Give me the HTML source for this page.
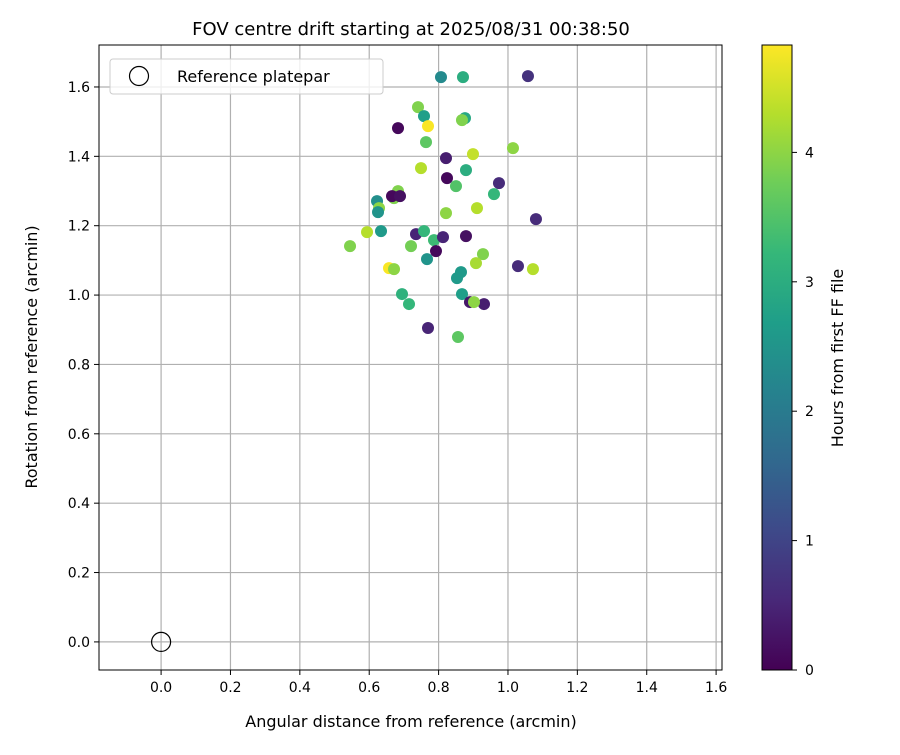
<!DOCTYPE html>
<html><head><meta charset="utf-8"><style>body{margin:0;background:#fff}svg{font-family:"DejaVu Sans","Liberation Sans",sans-serif}</style></head>
<body>
<svg id="c" width="900" height="750"></svg>
<script>
const xPix=[441,463,528,418,424,398,428,426,465,462,513,446,473,421,466,447,456,499,494,398,394,377,392,400,379,378,446,477,536,367,381,350,416,424,434,443,411,436,466,483,476,427,518,533,389,394,461,457,402,409,462,470,484,474,428,458];
const yPix=[77,77,76,107,116,128,126,142,118,120,148,158,154,168,170,178,186,183,194,191,198,201,196,196,208,212,213,208,219,232,231,246,234,231,240,237,246,251,236,254,263,259,266,269,268,269,272,278,294,304,294,302,304,302,328,337];
const hours=[2.3,3.0,0.7,3.9,2.7,0.1,4.8,3.6,2.9,3.9,4.0,0.4,4.4,4.3,3.0,0.1,3.5,0.6,3.2,3.9,3.9,2.4,0.1,0.2,4.0,2.5,4.0,4.3,0.6,4.3,2.6,3.9,0.5,3.2,3.3,0.5,3.8,0.1,0.2,3.9,4.2,2.5,0.6,4.3,4.8,4.0,2.6,2.6,3.1,3.2,2.7,0.3,0.4,4.0,0.5,3.6];
const xs=xPix.map(p=>(p-161)/347), ys=yPix.map(p=>(642-p)/347);
const xTicks=[0,0.2,0.4,0.6,0.8,1.0,1.2,1.4,1.6], yTicks=[0,0.2,0.4,0.6,0.8,1.0,1.2,1.4,1.6], cTicks=[0,1,2,3,4];
const L=99,R=722,T=45,B=670,X0=-0.179,X1=1.617,Y0=-0.081,Y1=1.721,HMAX=4.83;
const sx=v=>L+(v-X0)/(X1-X0)*(R-L), sy=v=>B-(v-Y0)/(Y1-Y0)*(B-T), sc=h=>670-h/HMAX*625;
const vir=[[68,1,84],[72,40,120],[62,73,137],[49,104,142],[38,130,142],[31,158,137],[53,183,121],[109,205,89],[180,222,44],[253,231,37]];
function cm(t){t=Math.max(0,Math.min(1,t))*(vir.length-1);const i=Math.min(Math.floor(t),vir.length-2),f=t-i;const c=vir[i].map((v,k)=>Math.round(v+(vir[i+1][k]-v)*f));return `rgb(${c})`;}
const svg=document.getElementById('c');let h='';
h+=`<text x="411" y="35" font-size="18" text-anchor="middle">FOV centre drift starting at 2025/08/31 00:38:50</text>`;
xTicks.forEach(t=>{const x=sx(t);h+=`<line x1="${x}" y1="${T}" x2="${x}" y2="${B}" stroke="#b0b0b0" stroke-width="1.2"/><line x1="${x}" y1="${B}" x2="${x}" y2="${B+5}" stroke="#000"/><text x="${x}" y="${B+22}" font-size="14" text-anchor="middle">${t.toFixed(1)}</text>`;});
yTicks.forEach(t=>{const y=sy(t);h+=`<line x1="${L}" y1="${y}" x2="${R}" y2="${y}" stroke="#b0b0b0" stroke-width="1.2"/><line x1="${L-5}" y1="${y}" x2="${L}" y2="${y}" stroke="#000"/><text x="${L-9}" y="${y+5}" font-size="14" text-anchor="end">${t.toFixed(1)}</text>`;});
xs.forEach((v,i)=>{h+=`<circle cx="${sx(v)}" cy="${sy(ys[i])}" r="6" fill="${cm(hours[i]/HMAX)}"/>`;});
h+=`<circle cx="${sx(0)}" cy="${sy(0)}" r="9.5" fill="none" stroke="#000" stroke-width="1.2"/>`;
h+=`<rect x="${L}" y="${T}" width="${R-L}" height="${B-T}" fill="none" stroke="#000" stroke-width="1"/>`;
h+=`<g><rect x="110" y="59" width="273" height="35" rx="3" fill="#fff" fill-opacity="0.8" stroke="#ccc"/><circle cx="139" cy="76" r="9.5" fill="none" stroke="#000" stroke-width="1.2"/><text x="177" y="82" font-size="16">Reference platepar</text></g>`;
h+=`<text x="411" y="727" font-size="16" text-anchor="middle">Angular distance from reference (arcmin)</text>`;
h+=`<text transform="translate(37,357) rotate(-90)" font-size="16" text-anchor="middle">Rotation from reference (arcmin)</text>`;
let defs='<defs><linearGradient id="g" x1="0" y1="1" x2="0" y2="0">';vir.forEach((c,i)=>defs+=`<stop offset="${i/(vir.length-1)}" stop-color="rgb(${c})"/>`);defs+='</linearGradient></defs>';
h=defs+h+`<rect x="762" y="45" width="30" height="625" fill="url(#g)" stroke="#000" stroke-width="1"/>`;
cTicks.forEach(t=>{const y=sc(t);h+=`<line x1="792" y1="${y}" x2="797" y2="${y}" stroke="#000"/><text x="805" y="${y+5}" font-size="14">${t}</text>`;});
h+=`<text transform="translate(843,358) rotate(-90)" font-size="16" text-anchor="middle">Hours from first FF file</text>`;
svg.innerHTML=h;
</script>
</body></html>
